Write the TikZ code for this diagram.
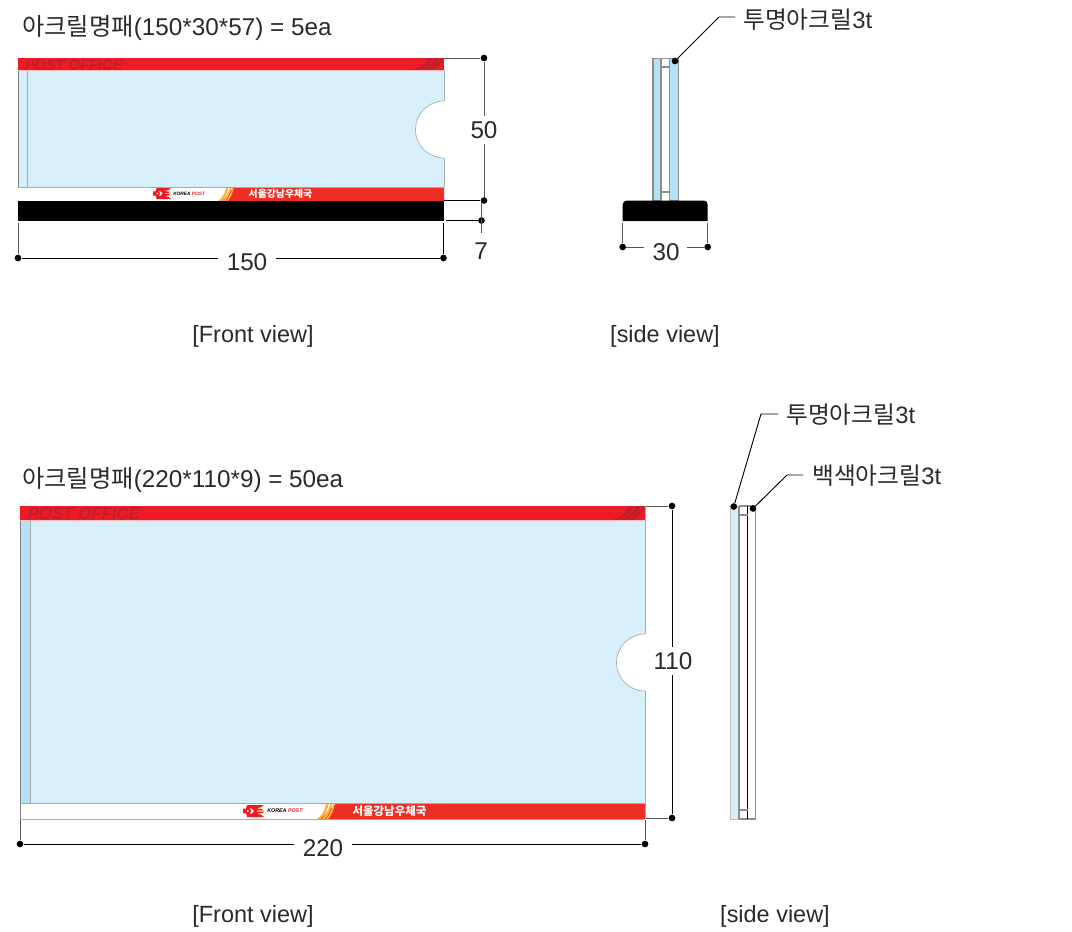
\documentclass[tikz,border=0pt]{standalone}
\usepackage{fontspec}
\setmainfont{Liberation Sans}
\newfontfamily\krf{Noto Sans CJK KR}
\definecolor{tx}{HTML}{2A2A2A}
\definecolor{pblue}{HTML}{D6EFFB}
\definecolor{sblue}{HTML}{B5E0F5}
\definecolor{pred}{HTML}{ED1C24}
\definecolor{bred}{HTML}{EE2E24}
\definecolor{dred}{HTML}{BE1E2D}
\definecolor{edge}{HTML}{A5AAAE}
\definecolor{dim}{HTML}{555555}
\definecolor{swy}{HTML}{FBB040}
\definecolor{sgray}{HTML}{8E8E8E}
\tikzset{
  lab/.style={font=\fontsize{18.2pt}{20pt}\selectfont, text=tx, inner sep=0pt, anchor=center},
  viewlab/.style={lab, font=\fontsize{17.6pt}{20pt}\selectfont},
  krlab/.style={lab, anchor=west},
  calllab/.style={krlab, font=\fontsize{17.8pt}{20pt}\selectfont},
  dimline/.style={draw=dim, line width=0.75pt},
  blackline/.style={draw=black, line width=0.7pt},
  dotn/.style={circle, fill=black, inner sep=0pt, minimum size=5pt},
  outline/.style={draw=edge, line width=0.6pt},
  sideline/.style={draw=sgray, line width=0.9pt},
}
\newcommand{\kt}[1]{{\krf #1}}
\newcommand{\emblem}[4]{%
  \begin{scope}[shift={(#1,#2)}, xscale=#3, yscale=#4]
    \fill[pred] (0,.3)--(.14,.32)--(.2,.0)--(1,.0)--(.85,.2)--(.62,.28)--(.95,.34)--(.8,.5)--(1,.66)--(.62,.72)--(.85,.8)--(1,1)--(.2,1)--(.14,.68)--(0,.7)--cycle;
    \fill[white] (.2,.42)--(.3,.5)--(.2,.58)--cycle;
    \fill[white] (.32,.3)--(.42,.3)--(.52,.5)--(.42,.7)--(.32,.7)--(.42,.5)--cycle;
    \fill[swy] (.66,.44)--(.98,.44)--(.98,.56)--(.66,.56)--cycle;
  \end{scope}}
\newcommand{\swoosh}[5]{%
  \begin{scope}[shift={(#1,#2)}, xscale=#3, yscale=#4]
    \fill[#5] (0,1) .. controls (.35,.75) and (.5,.35) .. (.55,0) -- (.7,0) .. controls (.65,.4) and (.45,.8) .. (.2,1) -- cycle;
    \fill[#5] (.28,1) .. controls (.55,.7) and (.75,.3) .. (.8,0) -- (.92,0) .. controls (.85,.4) and (.65,.8) .. (.45,1) -- cycle;
    \fill[#5] (.52,1) .. controls (.75,.7) and (.92,.3) .. (.98,0) -- (1.06,0) .. controls (1,.4) and (.85,.8) .. (.65,1) -- cycle;
  \end{scope}}
\begin{document}
\begin{tikzpicture}[x=0.75pt,y=-0.75pt]
\useasboundingbox (0,0) rectangle (1072,932);
\fill[white] (0,0) rectangle (1072,932);

% ===== titles =====
\node[krlab] (t1) at (22,27.5) {\kt{아크릴명패}(150*30*57) = 5ea};
\node[krlab] (t2) at (22,480) {\kt{아크릴명패}(220*110*9) = 50ea};

% ===== upper front view =====
\fill[pblue] (18,70) rectangle (444,187);
\draw[outline] (27,70) -- (27,187);
\draw[draw=gray, line width=0.7pt] (18,58) -- (18,187);
\fill[pred] (18,58) rectangle (444,70);
\swoosh{412}{58}{30}{12}{dred}
\node[font=\bfseries\itshape\fontsize{11pt}{11pt}\selectfont, text=dred, inner sep=0pt] (po1) at (73.5,65) {POST OFFICE};
\draw[draw=white!70!pred, line width=0.5pt] (18,70) -- (444,70);
\fill[white] (18,187) rectangle (444,201);
\fill[bred] (234,187) -- (444,187) -- (444,201) -- (222,201) -- cycle;
\swoosh{218}{187}{15}{14}{swy}
\draw[outline] (18,187) -- (444,187);
\draw[outline] (18,201) -- (444,201);
\emblem{153}{188}{18}{11}
\node[font=\bfseries\itshape\fontsize{3.6pt}{4pt}\selectfont, inner sep=0pt, anchor=west] (kp1) at (173,193.5) {KOREA \textcolor{pred}{POST}};
\node[font=\krf\bfseries\fontsize{7.4pt}{8pt}\selectfont, text=white, inner sep=0pt] (so1) at (280.5,193.5) {서울강남우체국};
\filldraw[fill=white, draw=edge, line width=0.5pt] (444,101) arc[start angle=270, end angle=90, radius=28.5];
\draw[draw=edge, line width=0.5pt] (444,70) -- (444,101) (444,158) -- (444,187);
\fill[black] (18,201) rectangle (444,221);

% upper front dimensions
\node[dotn] (a1) at (484,58) {};
\node[dotn] (a2) at (484,200.5) {};
\node[dotn] (a3) at (481.5,220.5) {};
\node[dotn] (a4) at (443.5,258) {};
\node[dotn] (a5) at (18,258) {};
\coordinate (a1s) at (444,58);
\coordinate (a2s) at (444,200.5);
\coordinate (a3s) at (446,220.5);
\coordinate (a4s) at (443.5,223);
\coordinate (a5s) at (18,223);
\coordinate (a6s) at (481.5,200.5);
\coordinate (a6e) at (481.5,233);
\node[lab, inner ysep=4pt] (l50) at (484,130) {50};
\node[lab] (l7) at (481,251) {7};
\node[lab, inner xsep=6pt] (l150) at (247,262) {150};
\draw[dimline] (a1s) -- (a1) -- (l50);
\draw[dimline] (l50) -- (a2);
\draw[blackline] (a2s) -- (a2);
\draw[blackline] (a3s) -- (a3);
\draw[dimline] (a6s) -- (a6e);
\draw[blackline] (a4s) -- (a4);
\draw[dimline] (a5s) -- (a5);
\draw[blackline] (a5) -- (a5 -| l150.west);
\draw[blackline] (a4) -- (a4 -| l150.east);
\node[viewlab] (v1) at (253,336.5) {[Front view]};

% ===== upper side view =====
\filldraw[fill=sblue, sideline] (653,58.5) rectangle (661,201);
\filldraw[fill=sblue, sideline] (669.5,58.5) rectangle (678.7,201);
\draw[sideline] (661,67) -- (669.5,67) (661,192) -- (669.5,192) (661,58.5) -- (669.5,58.5);
\fill[black] [rounded corners=3pt] (622.7,221) -- (622.7,200.5) -- (707.7,200.5) [sharp corners] -- (707.7,221) -- cycle;
\node[dotn] (b1) at (622.7,247) {};
\node[dotn] (b2) at (707.7,247) {};
\coordinate (b1s) at (622.7,223);
\coordinate (b2s) at (707.7,223);
\coordinate (b1e) at (644,247);
\coordinate (b2e) at (687,247);
\node[lab] (l30) at (666,252) {30};
\draw[dimline] (b1s) -- (b1) -- (b1e);
\draw[dimline] (b2s) -- (b2) -- (b2e);
\node[calllab] (c1t) at (743,20) {\kt{투명아크릴}3t};
\node[dotn] (c1) at (675,61) {};
\coordinate (c1k) at (719,17);
\coordinate (c1e) at (735,17);
\draw[blackline] (c1) -- (c1k) -- (c1e);
\node[viewlab] (v2) at (665,336.5) {[side view]};

% ===== lower front view =====
\fill[pblue] (20,520) rectangle (645,803);
\fill[sblue] (20,520) rectangle (30,803);
\draw[outline] (30,520) -- (30,803);
\draw[draw=gray, line width=0.7pt] (20,506) -- (20,803);
\fill[pred] (20,506) rectangle (645,520);
\swoosh{612}{506}{31}{14}{dred}
\node[font=\bfseries\itshape\fontsize{12.6pt}{13pt}\selectfont, text=dred, inner sep=0pt] (po2) at (84,514) {POST OFFICE};
\draw[draw=white!70!pred, line width=0.5pt] (20,520) -- (645,520);
\fill[white] (20,803) rectangle (645,819);
\fill[bred] (337,803) -- (645,803) -- (645,819) -- (320,819) -- cycle;
\swoosh{317}{803}{17}{16}{swy}
\draw[outline] (20,803) -- (645,803);
\draw[outline] (20,819) -- (645,819);
\draw[draw=gray, line width=0.7pt] (20,803) -- (20,819);
\emblem{243}{805}{21}{12}
\node[font=\bfseries\itshape\fontsize{4pt}{4.5pt}\selectfont, inner sep=0pt, anchor=west] (kp2) at (267,810.5) {KOREA \textcolor{pred}{POST}};
\node[font=\krf\bfseries\fontsize{8.6pt}{9pt}\selectfont, text=white, inner sep=0pt] (so2) at (389.5,811) {서울강남우체국};
\filldraw[fill=white, draw=edge, line width=0.5pt] (645,634) arc[start angle=270, end angle=90, radius=28.5];
\draw[draw=edge, line width=0.7pt] (645,506) -- (645,634) (645,691) -- (645,819);

% lower front dimensions
\node[dotn] (d1) at (672,506) {};
\node[dotn] (d2) at (672,818) {};
\node[dotn] (d3) at (20,844) {};
\node[dotn] (d4) at (645,844) {};
\coordinate (d1s) at (646,506);
\coordinate (d2s) at (646,818);
\coordinate (d3s) at (20,820);
\coordinate (d4s) at (645,820);
\node[lab, inner ysep=4pt] (l110) at (673,661) {110};
\node[lab, inner xsep=6pt] (l220) at (323,848) {220};
\draw[dimline] (d1s) -- (d1);
\draw[blackline] (d1) -- (d1 |- l110.north);
\draw[blackline] (d2) -- (d2 |- l110.south);
\draw[dimline] (d2s) -- (d2);
\draw[dimline] (d3s) -- (d3);
\draw[dimline] (d4s) -- (d4);
\draw[blackline] (d3) -- (d3 -| l220.west);
\draw[blackline] (d4) -- (d4 -| l220.east);
\node[viewlab] (v3) at (253,916.5) {[Front view]};

% ===== lower side view =====
\filldraw[fill=pblue, draw=gray!50, line width=0.5pt] (730,506) rectangle (738.5,819);
\fill[white] (738.5,506) rectangle (756,819);
\draw[sideline, line width=1.3pt] (739,506) -- (739,819) (755.5,506) -- (755.5,819) (739,506) -- (756,506) (739,819) -- (756,819);
\draw[draw=black, line width=0.8pt] (747.5,506) -- (747.5,819);
\draw[sideline] (739,515) -- (747.5,515) (739,810) -- (747.5,810);
\node[dotn] (e1) at (733.8,506.5) {};
\node[dotn] (e2) at (753,508.5) {};
\coordinate (e1k) at (761,414);
\coordinate (e1e) at (778,414);
\coordinate (e2k) at (787,475);
\coordinate (e2e) at (803,475);
\draw[blackline] (e1) -- (e1k) -- (e1e);
\draw[blackline] (e2) -- (e2k) -- (e2e);
\node[calllab] (e1t) at (786,415) {\kt{투명아크릴}3t};
\node[calllab] (e2t) at (812,476) {\kt{백색아크릴}3t};
\node[viewlab] (v4) at (775,916.5) {[side view]};
\end{tikzpicture}
\end{document}
